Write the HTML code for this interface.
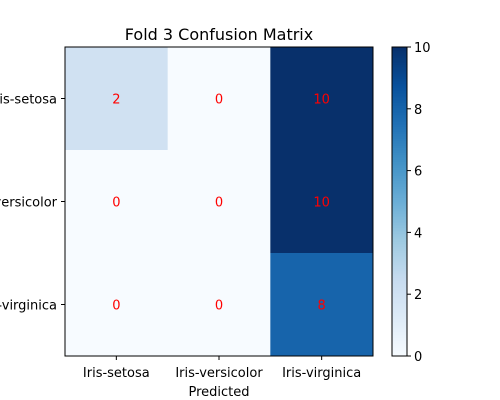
<!DOCTYPE html>
<html><head><meta charset="utf-8"><style>body{margin:0;background:#fff}svg{display:block;font-family:"DejaVu Sans","Liberation Sans",sans-serif}</style></head>
<body>
<svg id="c" width="500" height="400" viewBox="0 0 500 400"></svg>
<script>
const classes=["Iris-setosa","Iris-versicolor","Iris-virginica"];
const matrix=[[2,0,10],[0,0,10],[0,0,8]];
const cbTicks=[0,2,4,6,8,10];
const vmin=0,vmax=10;
const stops=["#f7fbff","#deebf7","#c6dbef","#9ecae1","#6baed6","#4292c6","#2171b5","#08519c","#08306b"];
function hex(h){return [1,3,5].map(i=>parseInt(h.substr(i,2),16));}
function cmap(v){let t=Math.max(0,Math.min(1,(v-vmin)/(vmax-vmin)))*(stops.length-1);let i=Math.min(Math.floor(t),stops.length-2),f=t-i;const a=hex(stops[i]),b=hex(stops[i+1]);return "rgb("+a.map((x,k)=>Math.round(x+(b[k]-x)*f)).join(",")+")";}
const svg=document.getElementById('c');const NS="http://www.w3.org/2000/svg";
function mk(t,a,txt){const e=document.createElementNS(NS,t);for(const k in a)e.setAttribute(k,a[k]);if(txt!==undefined)e.textContent=txt;svg.appendChild(e);return e;}
const L=65,T=47,R=373,B=356;const cw=(R-L)/classes.length,ch=(B-T)/classes.length;
const xc=i=>L+cw*(i+0.5),yc=i=>T+ch*(i+0.5);
matrix.forEach((row,r)=>row.forEach((v,c)=>{
 const rc=mk('rect',{x:L+cw*c,y:T+ch*r,width:cw+0.5,height:ch+0.5,fill:cmap(v)});
 
 
 const tx=mk('text',{x:xc(c),y:yc(r)+5,'text-anchor':'middle','font-size':13,fill:'red'},String(v));
 
 
}));
const fr=mk('rect',{x:L,y:T,width:R-L,height:B-T,fill:'none',stroke:'#000','stroke-width':1});

classes.forEach((n,i)=>{
 mk('line',{x1:xc(i),x2:xc(i),y1:B,y2:B+4,stroke:'#000'});
 const xt=mk('text',{x:xc(i),y:B+21,'text-anchor':'middle','font-size':13},n);
 
 mk('line',{x1:L-4,x2:L,y1:yc(i),y2:yc(i),stroke:'#000'});
 const yt=mk('text',{x:L-8,y:yc(i)+5,'text-anchor':'end','font-size':13},n);
 
});
const xl=mk('text',{x:(L+R)/2,y:B+40,'text-anchor':'middle','font-size':13},'Predicted');

const ti=mk('text',{x:(L+R)/2,y:T-7,'text-anchor':'middle','font-size':16},'Fold 3 Confusion Matrix');

// colorbar
const CL=392,CR=407;const cy=v=>B-(v-vmin)/(vmax-vmin)*(B-T);
for(let p=0;p<B-T;p++){mk('rect',{x:CL,y:B-p-1,width:CR-CL,height:1.5,fill:cmap(vmin+(p+0.5)/(B-T)*(vmax-vmin))});}
const cb=mk('rect',{x:CL,y:T,width:CR-CL,height:B-T,fill:'none',stroke:'#000'});

cbTicks.forEach(v=>{
 mk('line',{x1:CR,x2:CR+4,y1:cy(v),y2:cy(v),stroke:'#000'});
 const t=mk('text',{x:CR+7,y:cy(v)+5,'font-size':13},String(v));
 
});
</script>
</body></html>
